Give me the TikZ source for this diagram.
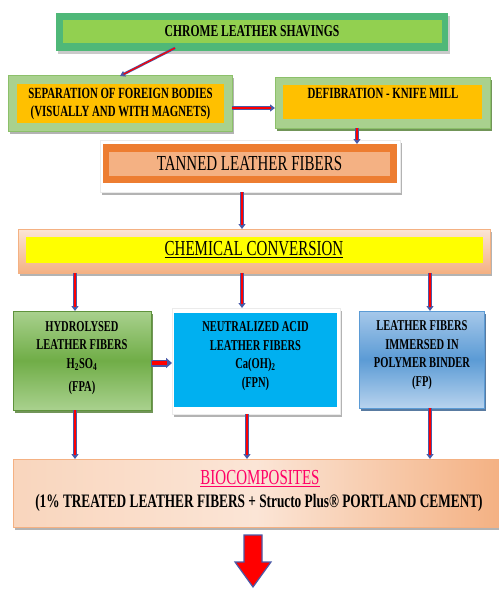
\documentclass[tikz,border=0pt]{standalone}
\usepackage{fontspec}
\setmainfont{Liberation Serif}
\newfontfamily\tnr[FakeStretch=0.7]{Liberation Serif}
\usetikzlibrary{arrows.meta,shadows}
\definecolor{gOut}{HTML}{4FB878}
\definecolor{gIn}{HTML}{92D050}
\definecolor{lgOut}{HTML}{A9D18E}
\definecolor{lgLine}{HTML}{8CC06A}
\definecolor{gold}{HTML}{FFC000}
\definecolor{orOut}{HTML}{ED7D31}
\definecolor{orIn}{HTML}{F4B183}
\definecolor{peach}{HTML}{F4B183}
\definecolor{peachL}{HTML}{FBE5D6}
\definecolor{yel}{HTML}{FFFF00}
\definecolor{gTop}{HTML}{A9D18E}
\definecolor{gMid}{HTML}{70AD47}
\definecolor{gDark}{HTML}{4E7A2E}
\definecolor{cyanbox}{HTML}{00B0F0}
\definecolor{bTop}{HTML}{A6C8EA}
\definecolor{bMid}{HTML}{5B9BD5}
\definecolor{bDark}{HTML}{2F5A8A}
\definecolor{arrB}{HTML}{4A5AA8}
\definecolor{pinktxt}{HTML}{FF0066}
\definecolor{shgray}{HTML}{A0A0A0}
\begin{document}
\begin{tikzpicture}[x=1pt,y=-1pt,
  box/.style={rectangle, inner sep=0pt, outer sep=0pt},
  shd/.style={drop shadow={shadow xshift=2pt, shadow yshift=-3pt, fill=#1, opacity=0.8}},
  bfs/.style={font=\tnr\bfseries\fontsize{15}{18.5}\selectfont, align=center, text=black},
  rgs/.style={font=\tnr\fontsize{21.4}{24}\selectfont, align=center, text=black},
  conn/.style={line width=3.2pt, draw=arrB, -{Triangle[length=5pt,width=7pt]},
    postaction={draw=red, line width=1.3pt, -, shorten >=4pt}},
  thickconn/.style={line width=7pt, draw=arrB, -{Triangle[length=6pt,width=10pt]},
    postaction={draw=red, line width=4.6pt, -, shorten >=5pt, shorten <=0.6pt}},
]
\useasboundingbox (0,0) rectangle (498,589);

% Box 1
\node[box, fill=gOut, minimum width=392pt, minimum height=38pt, shd=shgray!70] (b1) at (252,32) {};
\node[box, fill=gIn, minimum width=379pt, minimum height=23pt] (b1i) at (252.5,31.5) {};
\node[bfs, font=\tnr\bfseries\fontsize{16.6}{18}\selectfont] (t1) at (252,31) {CHROME LEATHER SHAVINGS};

% Box 2
\node[box, fill=lgOut, draw=lgLine, line width=0.8pt, minimum width=224pt, minimum height=56pt, shd=shgray] (b2) at (120,103) {};
\node[box, fill=gold, minimum width=207pt, minimum height=39pt] (b2i) at (120.5,103.5) {};
\node[bfs, font=\tnr\bfseries\fontsize{15.5}{18}\selectfont] (t2) at (120.5,104) {SEPARATION OF FOREIGN BODIES\\(VISUALLY AND WITH MAGNETS)};

% Box 3
\node[box, fill=lgOut, draw=lgLine, line width=0.8pt, minimum width=215pt, minimum height=51pt, shd=gDark] (b3) at (382.5,102.5) {};
\node[box, fill=gold, minimum width=199pt, minimum height=34pt] (b3i) at (382.5,102) {};
\node[bfs, font=\tnr\bfseries\fontsize{15.5}{18}\selectfont] (t3) at (383,93) {DEFIBRATION - KNIFE MILL};

% Box 4
\node[box, fill=white, draw=black!8, minimum width=300pt, minimum height=52pt, shd=shgray] (b4f) at (250,166) {};
\node[box, fill=orOut, minimum width=294pt, minimum height=39pt] (b4) at (250,163.5) {};
\node[box, fill=orIn, minimum width=281pt, minimum height=24pt] (b4i) at (249.5,164) {};
\node[rgs] (t4) at (249.5,164) {TANNED LEATHER FIBERS};

% Box 5
\node[box, top color=peachL, bottom color=peach, draw=peach, minimum width=472pt, minimum height=44pt, shd=shgray] (b5) at (254,251) {};
\node[box, fill=yel, minimum width=457pt, minimum height=26pt] (b5i) at (254.5,250) {};
\node[rgs] (t5) at (254,250) {\underline{CHEMICAL CONVERSION}};

% Box 6
\node[box, top color=gTop, bottom color=gTop, middle color=gMid, draw=gMid!85!black, line width=0.8pt, minimum width=138pt, minimum height=99pt, shd=gDark] (b6) at (82,360.5) {};
\node[bfs] (t6) at (82,358) {HYDROLYSED\\LEATHER FIBERS\\H\textsubscript{2}SO\textsubscript{4}\\[5pt](FPA)};

% Box 7
\node[box, fill=white, draw=black!8, minimum width=168pt, minimum height=106pt, shd=shgray] (b7f) at (256,361) {};
\node[box, fill=cyanbox, minimum width=163pt, minimum height=94pt] (b7) at (255.5,360) {};
\node[bfs] (t7) at (255.5,356) {NEUTRALIZED ACID\\LEATHER FIBERS\\Ca(OH)\textsubscript{2}\\(FPN)};

% Box 8
\node[box, top color=bTop, bottom color=bTop!80!white, middle color=bMid, draw=bMid, line width=1pt, minimum width=125pt, minimum height=97pt, shd=bDark] (b8) at (421.5,359.5) {};
\node[bfs] (t8) at (422,355) {LEATHER FIBERS\\IMMERSED IN\\POLYMER BINDER\\(FP)};

% Box 9
\node[box, left color=peachL!70!peach, right color=peach, middle color=peachL, draw=peach, minimum width=487pt, minimum height=68pt, shd=shgray] (b9) at (256.5,493) {};
\node[rgs, text=pinktxt] (t9a) at (260,479) {\underline{BIOCOMPOSITES}};
\node[bfs, font=\tnr\bfseries\fontsize{19}{20}\selectfont] (t9b) at (259,503) {(1\% TREATED LEATHER FIBERS + Structo Plus® PORTLAND CEMENT)};

% Connectors
\draw[line width=2.6pt, draw=arrB, -{Triangle[length=5pt,width=6pt]},
  postaction={draw=red, line width=1.2pt, -, shorten >=4pt}]
  ([xshift=-77pt,yshift=3pt]b1.south) -- ([yshift=-1pt]b2.north);
\draw[conn] ([yshift=-5pt]b2.east) -- ([yshift=-5pt]b2.east -| b3.west);
\draw[conn] ([xshift=-25.5pt]b3.south) -- ([xshift=-25.5pt]b3.south |- b4.north);
\draw[conn] ([xshift=-8pt]b4f.south) -- ([xshift=-8pt]b4f.south |- b5.north);
\draw[conn] ([xshift=-179pt]b5.south) -- ([xshift=-179pt]b5.south |- b6.north);
\draw[conn] ([xshift=-12pt]b5.south) -- ([xshift=-12pt]b5.south |- b7f.north);
\draw[conn] ([xshift=176pt]b5.south) -- ([xshift=176pt]b5.south |- b8.north);
\draw[thickconn] ([yshift=-2.5pt]b6.east) -- ([yshift=-2.5pt]b6.east -| b7f.west);
\draw[conn] ([xshift=-7pt]b6.south) -- ([xshift=-7pt]b6.south |- b9.north);
\draw[conn] ([xshift=-9pt]b7f.south) -- ([xshift=-9pt]b7f.south |- b9.north);
\draw[conn] ([xshift=8.5pt]b8.south) -- ([xshift=8.5pt]b8.south |- b9.north);

% Big output arrow
\draw[fill=red, draw=arrB, line width=1.2pt, line join=miter]
  (244,535) -- (262,535) -- (262,562) -- (271,562) -- (253,587) -- (235,562) -- (244,562) -- cycle;
\end{tikzpicture}
\end{document}
